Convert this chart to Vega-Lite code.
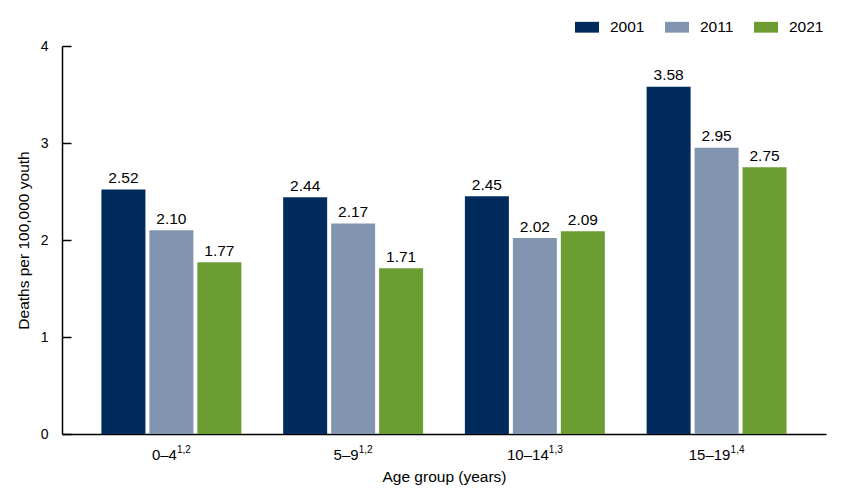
{
  "$schema": "https://vega.github.io/schema/vega-lite/v6.json",
  "autosize": "none",
  "width": 764,
  "height": 388,
  "padding": {"left": 62, "top": 46, "right": 15, "bottom": 60},
  "background": "white",
  "config": {
    "font": "Liberation Sans",
    "view": {"stroke": null},
    "axis": {"labelFont": "Liberation Sans", "titleFont": "Liberation Sans", "labelColor": "#000", "titleColor": "#000", "titleFontWeight": "normal", "domainColor": "#000", "tickColor": "#000"},
    "legend": {"labelFont": "Liberation Sans", "labelColor": "#000"}
  },
  "datasets": {
    "bars": [
      {"age": "0–4", "year": "2001", "value": 2.52},
      {"age": "0–4", "year": "2011", "value": 2.10},
      {"age": "0–4", "year": "2021", "value": 1.77},
      {"age": "5–9", "year": "2001", "value": 2.44},
      {"age": "5–9", "year": "2011", "value": 2.17},
      {"age": "5–9", "year": "2021", "value": 1.71},
      {"age": "10–14", "year": "2001", "value": 2.45},
      {"age": "10–14", "year": "2011", "value": 2.02},
      {"age": "10–14", "year": "2021", "value": 2.09},
      {"age": "15–19", "year": "2001", "value": 3.58},
      {"age": "15–19", "year": "2011", "value": 2.95},
      {"age": "15–19", "year": "2021", "value": 2.75}
    ],
    "sups": [
      {"age": "0–4", "sup": "1,2"},
      {"age": "5–9", "sup": "1,2"},
      {"age": "10–14", "sup": "1,3"},
      {"age": "15–19", "sup": "1,4"}
    ]
  },
  "layer": [
    {
      "data": {"name": "bars"},
      "mark": {"type": "bar"},
      "encoding": {
        "x": {
          "field": "age", "type": "nominal", "sort": null,
          "scale": {"paddingInner": 0.23, "paddingOuter": 0.217},
          "axis": {"title": "Age group (years)", "labelAngle": 0, "ticks": false, "labelFontSize": 15, "labelBaseline": "alphabetic", "labelPadding": 25, "labelOffset": -7, "titleFontSize": 15.5, "titlePadding": 7, "domainWidth": 1.5}
        },
        "xOffset": {"field": "year", "type": "nominal", "scale": {"paddingInner": 0.083, "paddingOuter": 0}},
        "y": {
          "field": "value", "type": "quantitative",
          "scale": {"domain": [0, 4]},
          "axis": {"title": "Deaths per 100,000 youth", "values": [0, 1, 2, 3, 4], "format": "d", "grid": false, "tickSize": -9, "labelPadding": 23, "labelFontSize": 14, "titleFontSize": 15.5, "titlePadding": 9, "domainWidth": 1.5, "tickWidth": 1.5}
        },
        "color": {
          "field": "year", "type": "nominal",
          "scale": {"domain": ["2001", "2011", "2021"], "range": ["#002B5C", "#8195B0", "#6B9D33"]},
          "legend": {"title": null, "orient": "none", "direction": "horizontal", "legendX": 513, "legendY": -31, "symbolType": "M-1,-0.45H1V0.45H-1Z", "symbolSize": 576, "symbolStrokeWidth": 0, "labelFontSize": 15.5, "labelOffset": 11, "columnPadding": 20, "padding": 0}
        }
      }
    },
    {
      "data": {"name": "bars"},
      "mark": {"type": "text", "baseline": "alphabetic", "dy": -6.5, "fontSize": 15.5, "color": "#000"},
      "encoding": {
        "x": {"field": "age", "type": "nominal", "sort": null},
        "xOffset": {"field": "year", "type": "nominal"},
        "y": {"field": "value", "type": "quantitative"},
        "text": {"field": "value", "type": "quantitative", "format": ".2f"}
      }
    },
    {
      "data": {"name": "sups"},
      "transform": [{"filter": {"field": "age", "oneOf": ["0–4", "5–9"]}}],
      "mark": {"type": "text", "align": "left", "baseline": "alphabetic", "dx": 5.5, "dy": 19, "fontSize": 10, "color": "#000"},
      "encoding": {
        "x": {"field": "age", "type": "nominal", "sort": null},
        "y": {"datum": 0, "type": "quantitative"},
        "text": {"field": "sup"}
      }
    },
    {
      "data": {"name": "sups"},
      "transform": [{"filter": {"field": "age", "oneOf": ["10–14", "15–19"]}}],
      "mark": {"type": "text", "align": "left", "baseline": "alphabetic", "dx": 14, "dy": 19, "fontSize": 10, "color": "#000"},
      "encoding": {
        "x": {"field": "age", "type": "nominal", "sort": null},
        "y": {"datum": 0, "type": "quantitative"},
        "text": {"field": "sup"}
      }
    }
  ]
}
